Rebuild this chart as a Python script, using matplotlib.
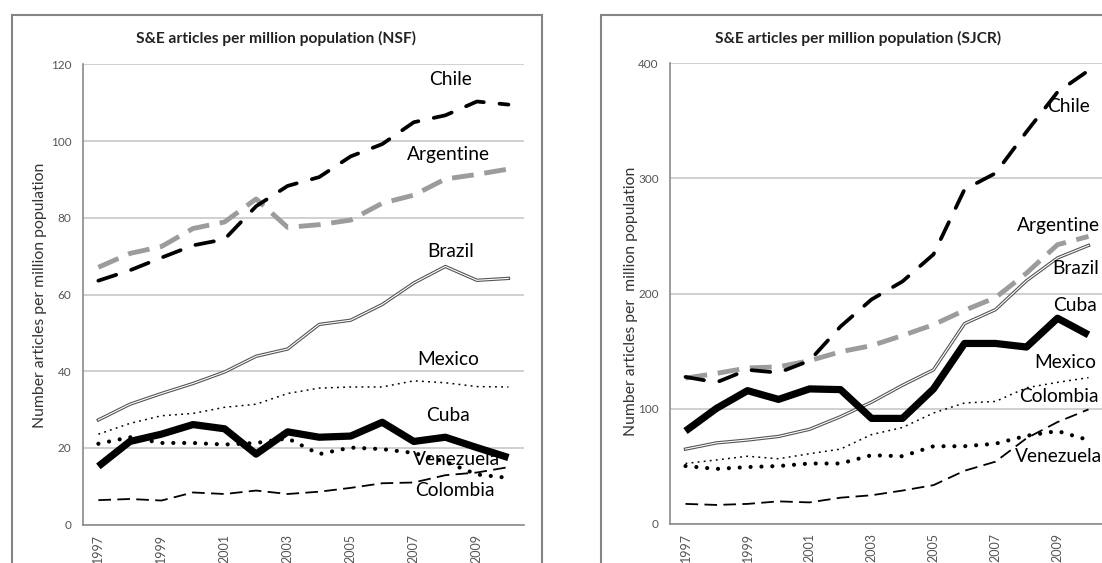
import matplotlib
matplotlib.use("Agg")
import matplotlib.pyplot as plt
from matplotlib.patches import Rectangle

plt.rcParams["font.family"] = ["Lato", "DejaVu Sans"]

years = list(range(1997, 2011))

# NSF panel (articles per million population)
nsf_chile = [63.6, 66.3, 69.6, 72.8, 74.4, 83.0, 88.3, 90.6, 96.0, 99.2, 104.9, 106.7, 110.3, 109.5]
nsf_argentine = [67.1, 70.7, 72.5, 77.2, 78.9, 84.9, 77.5, 78.2, 79.4, 83.8, 85.9, 90.1, 91.3, 92.7]
nsf_brazil = [27.3, 31.4, 34.2, 36.8, 39.8, 43.9, 45.8, 52.2, 53.3, 57.4, 63.0, 67.3, 63.7, 64.2]
nsf_mexico = [23.6, 26.4, 28.4, 29.0, 30.6, 31.4, 34.2, 35.6, 35.9, 35.9, 37.5, 37.0, 36.0, 35.9]
nsf_cuba = [15.2, 21.7, 23.6, 26.1, 25.0, 18.4, 24.2, 22.8, 23.1, 26.7, 21.7, 22.8, 20.1, 17.5]
nsf_venezuela = [21.1, 22.8, 21.3, 21.3, 20.9, 21.3, 22.5, 18.4, 20.1, 19.7, 18.7, 16.4, 13.1, 12.2]
nsf_colombia = [6.4, 6.7, 6.3, 8.4, 8.0, 8.9, 8.0, 8.6, 9.6, 10.8, 11.0, 12.9, 13.6, 15.0]

# SJCR panel
sjcr_chile = [127.5, 122.8, 133.7, 131.2, 141.6, 171.3, 194.8, 210.5, 234.0, 290.4, 304.5, 340.5, 375.0, 393.7]
sjcr_argentine = [126.5, 130.6, 135.3, 136.3, 141.6, 149.4, 154.7, 163.5, 172.9, 185.4, 196.4, 217.7, 242.4, 249.6]
sjcr_brazil = [64.8, 70.2, 72.7, 75.8, 82.0, 93.0, 105.6, 120.3, 133.7, 173.8, 186.0, 211.1, 230.9, 241.8]
sjcr_cuba = [80.5, 100.2, 115.6, 108.0, 117.1, 116.5, 91.5, 91.5, 117.1, 156.6, 156.6, 153.5, 178.5, 164.1]
sjcr_mexico = [52.3, 55.4, 58.6, 56.4, 60.8, 64.8, 77.4, 83.6, 96.2, 104.9, 106.2, 118.1, 122.8, 126.9]
sjcr_venezuela = [50.1, 47.6, 49.2, 50.1, 52.3, 52.3, 59.5, 58.6, 67.3, 67.3, 69.5, 76.4, 80.5, 72.7]
sjcr_colombia = [17.2, 16.3, 17.2, 19.4, 18.5, 22.6, 24.7, 28.8, 33.5, 46.0, 53.9, 74.2, 88.3, 99.3]

nsf_labels = {"Chile": (2008.17, 116.1), "Argentine": (2008.1, 96.6),
              "Brazil": (2008.16, 71.1), "Mexico": (2008.1, 43.1),
              "Cuba": (2008.1, 28.5), "Venezuela": (2008.35, 17.1),
              "Colombia": (2008.3, 8.9)}
sjcr_labels = {"Chile": (2009.37, 362.4), "Argentine": (2009.04, 259.0),
               "Brazil": (2009.58, 222.0), "Cuba": (2009.58, 189.2),
               "Mexico": (2009.26, 140.0), "Colombia": (2009.05, 110.3),
               "Venezuela": (2009.02, 58.6)}

W, H = 1102, 563
fig = plt.figure(figsize=(W / 100, H / 100), dpi=100)
fig.patch.set_facecolor("white")


def px_axes(x0, y_top, x1, y_bot):
    return fig.add_axes([x0 / W, (H - y_bot) / H, (x1 - x0) / W, (y_bot - y_top) / H])


def frame(x0, y_top, x1, y_bot):
    fig.add_artist(Rectangle((x0 / W, (H - y_bot) / H), (x1 - x0) / W, (y_bot - y_top) / H,
                             transform=fig.transFigure, fill=False,
                             edgecolor="#858585", linewidth=1.5))


def draw_panel(ax, series, ymax, ystep, labels):
    chile, arg, bra, mex, cuba, ven, col = series
    ax.plot(years, col, color="black", lw=1.3, linestyle=(0, (7, 3.5)))
    ax.plot(years, ven, color="black", lw=3.0, linestyle=(0, (0.01, 2.6)),
            dash_capstyle="round")
    ax.plot(years, mex, color="black", lw=1.1, linestyle=(0, (1.2, 2.8)))
    ax.plot(years, bra, color="#555555", lw=2.4, solid_joinstyle="round")
    ax.plot(years, bra, color="white", lw=0.8, solid_joinstyle="round")
    ax.plot(years, cuba, color="black", lw=5.2, solid_joinstyle="round",
            solid_capstyle="butt")
    ax.plot(years, arg, color="#9c9c9c", lw=3.5, linestyle=(0, (4.5, 2.2)))
    ax.plot(years, chile, color="black", lw=2.7, linestyle=(0, (5, 4.2)),
            dash_capstyle="round")

    ax.set_xlim(1996.5, 2010.5)
    ax.set_ylim(0, ymax)
    ax.set_yticks(range(0, ymax + 1, ystep))
    ax.set_xticks(years[::2])
    ax.set_xticklabels([str(y) for y in years[::2]], rotation=90)
    ax.tick_params(length=0, labelcolor="#555555")
    ax.tick_params(axis="y", pad=8, labelsize=8.5)
    ax.tick_params(axis="x", pad=7, labelsize=9)
    ax.grid(axis="y", color="#c4c4c4", lw=1.1)
    ax.set_axisbelow(True)
    for s in ("top", "right"):
        ax.spines[s].set_visible(False)
    for s in ("left", "bottom"):
        ax.spines[s].set_color("#8a8a8a")
        ax.spines[s].set_linewidth(1.2)
    for name, (x, y) in labels.items():
        ax.text(x, y, name, ha="center", va="center", fontsize=13.8, color="black")


frame(11.7, 15, 541.5, 620)
frame(601, 15, 1160, 620)

ax1 = px_axes(82.6, 64.3, 524.2, 524.7)
draw_panel(ax1, [nsf_chile, nsf_argentine, nsf_brazil, nsf_mexico, nsf_cuba,
                 nsf_venezuela, nsf_colombia], 120, 20, nsf_labels)

ax2 = px_axes(670, 63.3, 1104, 523.7)
draw_panel(ax2, [sjcr_chile, sjcr_argentine, sjcr_brazil, sjcr_mexico, sjcr_cuba,
                 sjcr_venezuela, sjcr_colombia], 400, 100, sjcr_labels)

fig.text(276 / W, 1 - 38.8 / H, "S&E articles per million population (NSF)",
         ha="center", va="center", fontsize=11.2, fontweight="bold", color="#222222")
fig.text(858 / W, 1 - 38.8 / H, "S&E articles per million population (SJCR)",
         ha="center", va="center", fontsize=11.2, fontweight="bold", color="#222222")
fig.text(40.4 / W, 1 - 295 / H, "Number articles per million population",
         ha="center", va="center", rotation=90, fontsize=11.3, color="#333333")
fig.text(631 / W, 1 - 301 / H, "Number articles per  million population",
         ha="center", va="center", rotation=90, fontsize=11.3, color="#333333")

fig.savefig("out.png", dpi=100)
